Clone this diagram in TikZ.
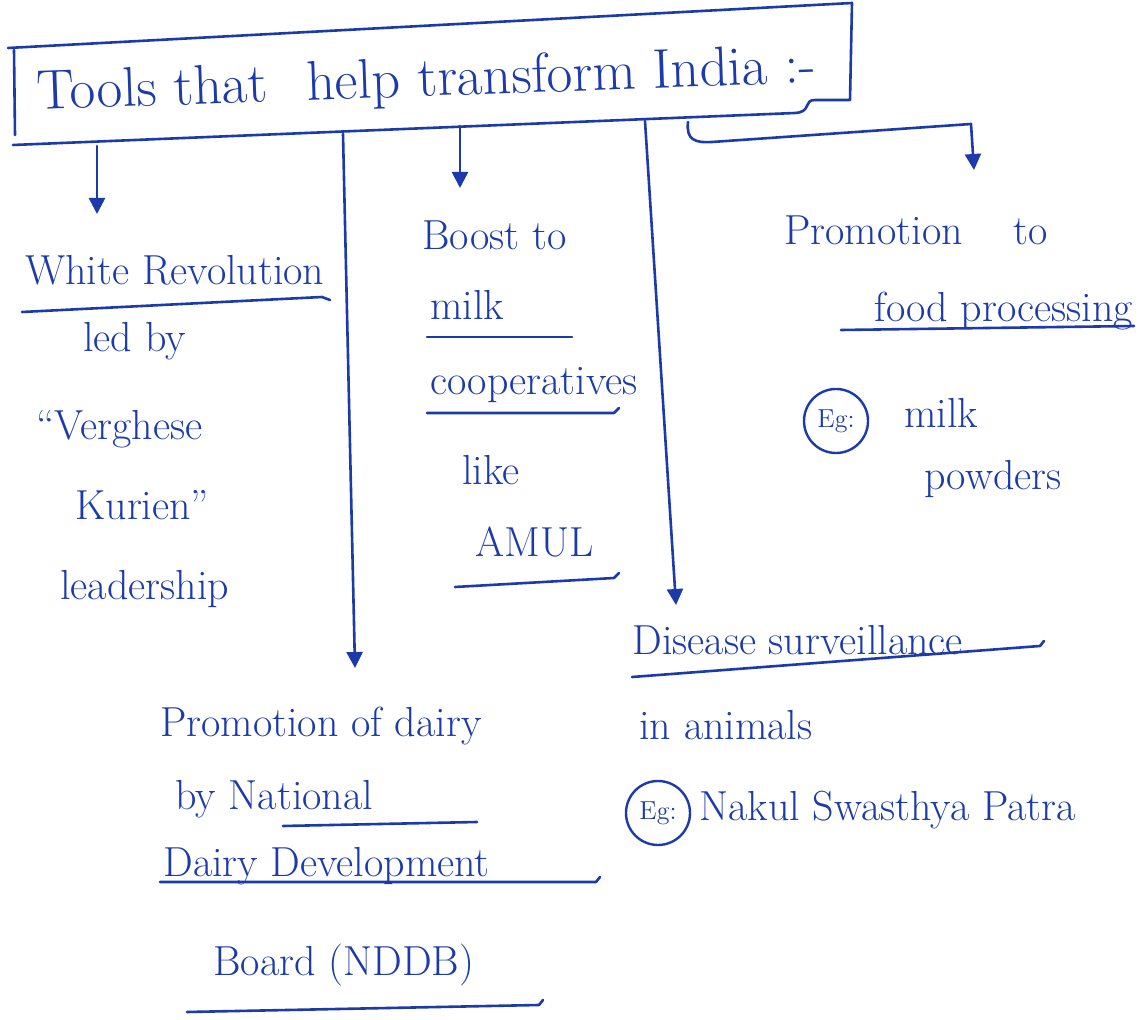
\documentclass[tikz,border=0pt]{standalone}
\usepackage{fontspec}
\usetikzlibrary{arrows.meta}
\definecolor{ink}{RGB}{28,58,170}
\begin{document}
\begin{tikzpicture}[x=0.5pt,y=-0.5pt,
  inkline/.style={draw=ink,line width=1.3pt,line cap=round,line join=round},
  arr/.style={inkline,-{Triangle[length=8pt,width=8pt]}},
  txt/.style={anchor=base west,inner sep=0pt,text=ink,font=\fontsize{21}{25}\selectfont},
  eg/.style={circle,draw=ink,line width=1.2pt,inner sep=1pt,minimum size=32pt,text=ink,font=\fontsize{13}{15}\selectfont}]
\useasboundingbox (0,0) rectangle (1146,1020);
\fill[white] (0,0) rectangle (1146,1020);
% title frame
\node[txt,rotate=2,font=\fontsize{28}{32}\selectfont] (title) at (37,110) {Tools that\hspace{0.4em} help transform India :-};
\draw[inkline] (15,135) -- (14,50);
\draw[inkline] (8,48) -- (852,3) -- (850,100) -- (815,100) .. controls (803,100) and (812,112) .. (795,113) -- (13,145);
% connector starts and tips
\coordinate (s1) at (97,146);  \coordinate (t1) at (97,214);
\coordinate (s2) at (343,134); \coordinate (t2) at (355,668);
\coordinate (s3) at (460,126); \coordinate (t3) at (460,188);
\coordinate (s4) at (645,121); \coordinate (t4) at (676,605);
\coordinate (s5) at (688,122); \coordinate (c5) at (971,124); \coordinate (t5) at (974,170);
% texts
\node[txt] (wr) at (25,285) {White Revolution};
\node[txt] (led) at (83,352) {led by};
\node[txt] (vg) at (36,440) {``Verghese};
\node[txt] (ku) at (75,520) {Kurien''};
\node[txt] (lead) at (60,600) {leadership};
\node[txt] (boost) at (422,250) {Boost to};
\node[txt] (milk) at (430,320) {milk};
\node[txt] (coop) at (430,395) {cooperatives};
\node[txt] (like) at (462,485) {like};
\node[txt] (amul) at (475,557) {AMUL};
\node[txt] (ds) at (632,655) {Disease surveillance};
\node[txt] (ia) at (639,740) {in animals};
\node[eg] (eg2) at (658,813) {Eg:};
\node[txt] (nsp) at (699,820) {Nakul Swasthya Patra};
\node[txt] (pt) at (784,245) {Promotion\hspace{1.2em}to};
\node[txt] (fp) at (874,322) {food processing};
\node[eg] (eg1) at (836,421) {Eg:};
\node[txt] (mk) at (904,428) {milk};
\node[txt] (pw) at (924,490) {powders};
\node[txt] (pd) at (160,737) {Promotion of dairy};
\node[txt] (byn) at (175,810) {by National};
\node[txt] (dd) at (163,877) {Dairy Development};
\node[txt] (bd) at (213,975) {Board (NDDB)};
% underlines
\draw[inkline] (22,312) -- (322,297) -- (330,300);
\draw[inkline] (427,337) -- (572,337);
\draw[inkline] (427,413) -- (614,413) -- (619,408);
\draw[inkline] (455,587) -- (614,578) -- (619,573);
\draw[inkline] (632,677) -- (1040,646) -- (1044,641);
\draw[inkline] (841,330) -- (1134,326);
\draw[inkline] (283,826) -- (477,822);
\draw[inkline] (160,882) -- (596,882) -- (600,877);
\draw[inkline] (187,1012) -- (539,1005) -- (543,1000);
% connectors
\draw[arr] (s1) -- (t1);
\draw[arr] (s2) -- (t2);
\draw[arr] (s3) -- (t3);
\draw[arr] (s4) -- (t4);
\draw[arr] (s5) .. controls (686,140) and (695,143) .. (712,142) -- (c5) -- (t5);
\end{tikzpicture}
\end{document}
